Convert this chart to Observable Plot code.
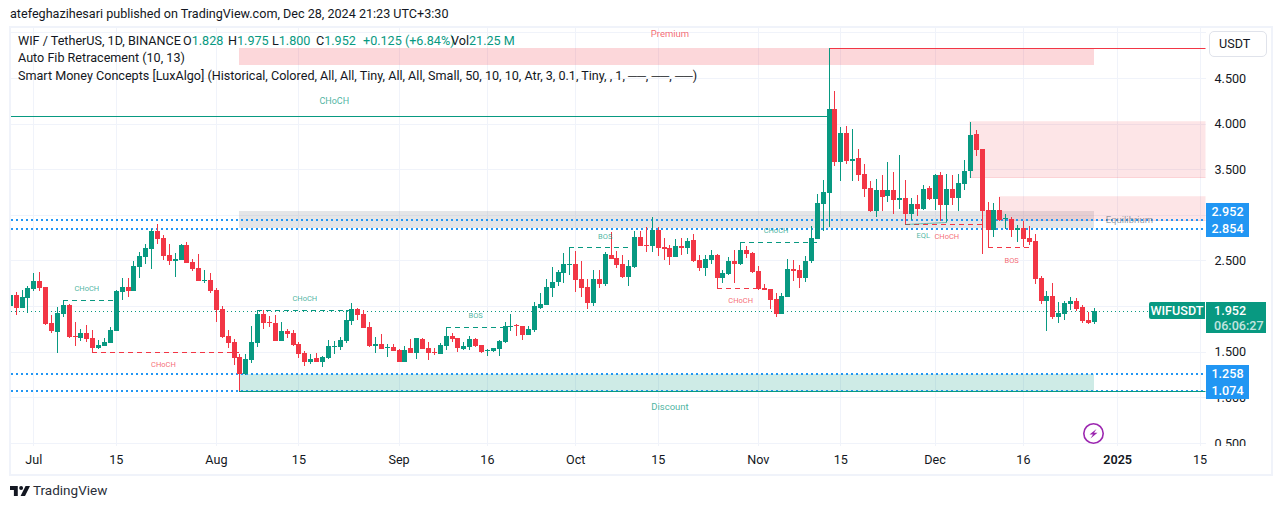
<!DOCTYPE html>
<html><head><meta charset="utf-8">
<script src="https://cdn.jsdelivr.net/npm/d3@7"></script>
<script src="https://cdn.jsdelivr.net/npm/@observablehq/plot@0.6"></script>
<style>
html,body{margin:0;padding:0;background:#fff;width:1281px;height:509px;overflow:hidden}
body{position:relative;font-family:Roboto,sans-serif;color:#131722}
#chart{position:absolute;left:0;top:0}
#chart line{shape-rendering:crispEdges}
#chart rect{shape-rendering:crispEdges}
.abs{position:absolute;white-space:nowrap;line-height:1}
.frame{position:absolute;left:9px;top:26px;width:1260px;height:446px;border:2px solid #f0f3fa;box-sizing:content-box;pointer-events:none}
.leg{font-size:12.6px}
.g{color:#089981}
.badge{position:absolute;left:1206px;width:43px;height:17px;background:#2196f3;color:#fff;font-size:12.6px;font-weight:500;line-height:17px;text-align:center}
</style></head><body>
<div id="chart"></div>
<div class="frame"></div>
<div class="abs" style="left:1207px;top:446px;width:60px;height:7px;background:#fff"></div>
<div class="abs" style="left:10px;top:8px;font-size:12.6px">atefeghazihesari published on TradingView.com, Dec 28, 2024 21:23 UTC+3:30</div>
<div class="abs leg" style="left:18px;top:35px">WIF / TetherUS, 1D, BINANCE</div>
<div class="abs leg" style="left:183px;top:35px">O<span class="g">1.828</span></div>
<div class="abs leg" style="left:228px;top:35px">H<span class="g">1.975</span></div>
<div class="abs leg" style="left:272px;top:35px">L<span class="g">1.800</span></div>
<div class="abs leg" style="left:316px;top:35px">C<span class="g">1.952</span></div>
<div class="abs leg g" style="left:363px;top:35px">+0.125 (+6.84%)</div>
<div class="abs leg" style="left:451px;top:35px">Vol<span class="g">21.25 M</span></div>
<div class="abs leg" style="left:18px;top:52px">Auto Fib Retracement (10, 13)</div>
<div class="abs leg" style="left:18px;top:70px">Smart Money Concepts [LuxAlgo] (Historical, Colored, All, All, Tiny, All, All, Small, 50, 10, 10, Atr, 3, 0.1, Tiny, , 1, ──, ──, ──)</div>
<div class="abs" style="left:1209px;top:31px;width:56px;height:24px;border:1px solid #e0e3eb;border-radius:5px;background:#fff;font-size:12.6px;line-height:24px;text-indent:9px">USDT</div>
<div class="badge" style="top:203px">2.952</div>
<div class="badge" style="top:220px">2.854</div>
<div class="badge" style="top:365px">1.258</div>
<div class="badge" style="top:382px">1.074</div>
<div class="abs" style="left:1149px;top:302px;width:56px;height:17px;background:#089981;color:#fff;font-size:12.6px;font-weight:500;line-height:17px;text-align:center;border-radius:2px 0 0 2px">WIFUSDT</div>
<div class="abs" style="left:1206px;top:302px;width:60px;height:31px;background:#089981;color:#fff;font-size:12.6px;font-weight:500;line-height:15px;text-indent:8px"><div style="padding-top:1px">1.952</div><div style="opacity:.75">06:06:27</div></div>
<svg class="abs" style="left:1082px;top:422px" width="23" height="23" viewBox="0 0 23 23"><circle cx="11.5" cy="11.5" r="9.7" fill="#fff" stroke="#9c27b0" stroke-width="1.6"/><path d="M14.5 7 L7.5 12.5 H11 L8.5 16.5 L15.5 10.8 H12 Z" fill="#9c27b0"/></svg>
<svg class="abs" style="left:10px;top:486px" width="20" height="10" viewBox="0 0 36 18"><path d="M0 0H14V18H7V7H0Z M20 0A3.5 3.5 0 1 0 20 7A3.5 3.5 0 1 0 20 0Z M28 0H36L27 18H19Z" fill="#131722"/></svg>
<div class="abs" style="left:33px;top:484px;font-size:13.5px;color:#2a2e39">TradingView</div>
<script>
const firstDay = new Date(Date.UTC(2024, 5, 27));
const open = [
2.001,2.121,1.983,2.092,
2.191,2.275,2.209,1.815,1.720,1.917,2.012,1.672,1.650,1.705,1.650,1.541,1.563,1.595,1.731,2.154,2.209,2.165,2.428,2.538,2.626,2.823,2.746,2.560,2.494,2.505,2.669,2.483,2.417,2.275,2.286,
2.176,1.968,1.672,1.606,1.442,1.256,1.409,1.596,1.913,1.826,1.815,1.617,1.727,1.705,1.585,1.486,1.387,1.431,1.387,1.431,1.552,1.552,1.617,1.837,1.968,1.913,1.771,1.563,1.585,1.541,1.552,
1.519,1.387,1.541,1.486,1.639,1.541,1.497,1.475,1.563,1.672,1.650,1.530,1.552,1.639,1.574,1.508,1.508,1.530,1.607,1.771,1.793,1.782,1.683,1.740,1.979,2.012,2.198,2.264,2.363,2.450,
2.461,2.297,2.209,2.034,2.297,2.242,2.560,2.527,2.461,2.319,2.429,2.757,2.670,2.659,2.834,2.648,2.637,2.538,2.659,2.637,2.724,2.505,2.418,2.505,2.560,2.308,2.352,2.494,2.461,2.615,2.582,
2.385,2.198,2.187,2.078,1.913,2.100,2.407,2.396,2.308,2.494,2.736,3.119,3.240,4.160,3.579,3.897,3.590,3.623,3.448,3.294,3.042,3.273,3.207,3.273,3.163,3.185,3.009,3.119,3.064,3.294,
3.174,3.437,3.108,3.283,3.185,3.338,3.481,3.886,3.722,3.053,2.834,3.053,2.955,2.955,2.834,2.856,2.747,2.714,2.308,2.056,2.111,1.881,1.914,2.023,2.056,1.990,1.848,1.828];
const close = [
2.121,1.983,2.100,2.198,
2.275,2.202,1.804,1.731,1.924,2.012,1.665,1.661,1.705,1.643,1.541,1.574,1.606,1.738,2.165,2.209,2.165,2.439,2.549,2.637,2.823,2.735,2.549,2.494,2.516,2.669,2.472,2.406,2.275,2.286,2.165,
1.957,1.661,1.595,1.431,1.256,1.420,1.607,1.913,1.815,1.815,1.617,1.727,1.694,1.574,1.475,1.387,1.420,1.387,1.442,1.563,1.563,1.628,1.848,1.968,1.902,1.760,1.563,1.585,1.530,1.552,1.508,
1.387,1.519,1.486,1.650,1.530,1.486,1.486,1.574,1.672,1.639,1.541,1.563,1.639,1.563,1.497,1.519,1.541,1.617,1.782,1.782,1.782,1.683,1.749,2.001,2.023,2.209,2.264,2.374,2.461,2.461,
2.286,2.198,2.034,2.297,2.242,2.571,2.516,2.450,2.319,2.439,2.757,2.659,2.659,2.834,2.637,2.626,2.538,2.659,2.637,2.713,2.494,2.418,2.516,2.560,2.308,2.363,2.494,2.461,2.615,2.571,2.374,
2.187,2.176,2.067,1.913,2.111,2.407,2.385,2.308,2.494,2.746,3.130,3.251,4.160,3.579,3.897,3.590,3.612,3.437,3.283,3.042,3.273,3.196,3.273,3.163,3.185,3.009,3.119,3.064,3.283,3.174,
3.437,3.108,3.283,3.185,3.349,3.481,3.875,3.711,3.042,2.834,3.053,2.944,2.966,2.834,2.856,2.736,2.703,2.297,2.056,2.111,1.881,1.925,2.034,2.056,1.968,1.837,1.815,1.952];
const high = [
2.140,2.151,2.176,2.220,
2.363,2.374,2.209,1.902,1.990,2.067,2.019,1.826,1.749,1.793,1.738,1.628,1.650,1.771,2.176,2.308,2.308,2.494,2.593,2.680,2.845,2.900,2.779,2.680,2.582,2.680,2.702,2.516,2.571,2.395,2.363,
2.198,2.001,1.738,1.639,1.475,1.475,1.782,1.946,1.957,1.891,1.902,1.826,1.749,1.738,1.607,1.508,1.475,1.486,1.453,1.628,1.617,1.661,1.957,2.034,1.979,1.957,1.826,1.661,1.694,1.585,1.585,
1.530,1.563,1.639,1.650,1.650,1.607,1.541,1.596,1.771,1.705,1.650,1.607,1.672,1.650,1.574,1.530,1.541,1.628,1.826,1.913,1.804,1.782,1.782,2.045,2.144,2.297,2.429,2.396,2.582,2.644,
2.604,2.494,2.297,2.396,2.396,2.593,2.812,2.604,2.560,2.505,2.823,2.823,2.867,2.976,2.867,2.746,2.670,2.735,2.746,2.746,2.790,2.560,2.560,2.615,2.571,2.396,2.538,2.615,2.703,2.659,2.593,
2.439,2.242,2.187,2.144,2.144,2.516,2.505,2.450,2.549,2.878,3.229,3.382,4.829,4.357,3.963,3.974,3.941,3.722,3.557,3.371,3.393,3.437,3.579,3.470,3.656,3.382,3.185,3.218,3.327,3.316,
3.448,3.470,3.448,3.437,3.448,3.601,4.018,3.930,3.722,3.141,3.130,3.196,3.010,2.977,2.889,2.933,2.878,2.790,2.330,2.166,2.253,2.045,2.056,2.100,2.089,2.012,1.936,1.975];
const low = [
1.980,1.902,1.983,1.928,
2.169,2.169,1.793,1.705,1.489,1.884,1.650,1.566,1.617,1.610,1.493,1.530,1.563,1.595,1.731,2.067,2.100,2.165,2.308,2.461,2.406,2.680,2.505,2.450,2.319,2.505,2.472,2.384,2.275,2.253,2.143,
1.826,1.650,1.541,1.354,1.074,1.240,1.376,1.552,1.749,1.771,1.617,1.617,1.650,1.563,1.431,1.344,1.365,1.387,1.333,1.420,1.475,1.519,1.596,1.793,1.848,1.760,1.552,1.486,1.530,1.442,1.508,
1.387,1.387,1.486,1.420,1.530,1.409,1.464,1.475,1.519,1.607,1.497,1.519,1.519,1.552,1.486,1.453,1.497,1.453,1.596,1.727,1.672,1.628,1.683,1.720,1.968,2.012,2.100,2.220,2.253,2.341,
2.155,2.100,1.968,2.001,2.198,2.220,2.516,2.418,2.308,2.220,2.418,2.659,2.593,2.593,2.549,2.505,2.450,2.538,2.560,2.571,2.483,2.385,2.330,2.461,2.187,2.253,2.341,2.253,2.450,2.527,2.363,
2.176,2.176,1.968,1.881,1.913,2.100,2.275,2.198,2.264,2.470,2.736,2.823,2.867,3.536,3.371,3.557,3.371,3.371,3.196,3.031,2.977,3.042,3.141,3.009,3.064,2.900,2.944,2.988,3.053,3.163,
3.053,2.933,2.922,3.108,3.042,3.273,3.404,3.645,2.571,2.834,2.757,2.933,2.845,2.757,2.703,2.648,2.670,2.242,2.023,1.727,1.859,1.815,1.848,1.957,1.947,1.815,1.804,1.800];

const D = (m, d, y = 2024) => new Date(Date.UTC(y, m - 1, d));
const priceTicks = [0.5, 1, 1.5, 2, 2.5, 3, 3.5, 4, 4.5];
const priceGrid = [0.5, 1, 1.5, 2, 2.5, 3, 3.5, 4, 4.5, 5];
const timeTicks = [D(7,1), D(7,15), D(8,1), D(8,15), D(9,1), D(9,16), D(10,1), D(10,15), D(11,1), D(11,15), D(12,1), D(12,16), D(1,1,2025), D(1,15,2025)];
const timeLabels = ["Jul","15","Aug","15","Sep","16","Oct","15","Nov","15","Dec","16","2025","15"];
const fibLevels = [2.952, 2.854, 1.258, 1.074];
const lastPrice = 1.952;
const zones = [
  {x1: D(8,5), x2: D(12,28), y1: 4.642, y2: 4.829, fill: "#f23645", op: 0.2},
  {x1: D(8,5), x2: D(12,28), y1: 2.856, y2: 3.042, fill: "#787b86", op: 0.2},
  {x1: D(8,5), x2: D(12,28), y1: 1.074, y2: 1.258, fill: "#089981", op: 0.2}
];
const orderBlocks = [
  {x1: D(12,7), x2: D(1,17,2025), y1: 3.407, y2: 4.018},
  {x1: D(12,12), x2: D(1,17,2025), y1: 2.936, y2: 3.196}
];
const levels = [
  {x1: D(1,1), x2: D(11,13), y: 4.083, c: "#089981", dash: "none"},
  {x1: D(11,13), x2: D(1,17,2025), y: 4.829, c: "#f23645", dash: "none"},
  {x1: D(8,5), x2: D(1,17,2025), y: 1.074, c: "#089981", dash: "none"},
  {x1: D(7,6), x2: D(7,15), y: 2.063, c: "#089981", dash: "5,4"},
  {x1: D(7,11), x2: D(8,5), y: 1.493, c: "#f23645", dash: "5,4"},
  {x1: D(8,8), x2: D(8,24), y: 1.954, c: "#089981", dash: "5,4"},
  {x1: D(9,9), x2: D(9,19), y: 1.768, c: "#089981", dash: "5,4"},
  {x1: D(9,30), x2: D(10,11), y: 2.644, c: "#089981", dash: "5,4"},
  {x1: D(10,25), x2: D(11,3), y: 2.195, c: "#f23645", dash: "5,4"},
  {x1: D(10,29), x2: D(11,11), y: 2.700, c: "#089981", dash: "5,4"},
  {x1: D(11,26), x2: D(12,9), y: 2.896, c: "#f23645", dash: "5,4"},
  {x1: D(12,10), x2: D(12,17), y: 2.644, c: "#f23645", dash: "5,4"}
];
const stems = [
  {x: D(7,6), y1: 2.012, y2: 2.063, c: "#089981"},
  {x: D(9,9), y1: 1.672, y2: 1.768, c: "#089981"},
  {x: D(12,10), y1: 2.644, y2: 2.834, c: "#f23645"}
];
const eql = [{x: D(11,26), y: 2.900}, {x: D(12,3), y: 2.922}];
const labels = [
  {x: D(8,21), y: 4.248, t: "CHoCH", c: "#089981", s: 9},
  {x: D(7,10), y: 2.202, t: "CHoCH", c: "#089981", s: 7.5},
  {x: D(7,23), y: 1.369, t: "CHoCH", c: "#f23645", s: 7.5},
  {x: D(8,16), y: 2.092, t: "CHoCH", c: "#089981", s: 7.5},
  {x: D(9,14), y: 1.906, t: "BOS", c: "#089981", s: 7.5},
  {x: D(10,6), y: 2.772, t: "BOS", c: "#089981", s: 7.5},
  {x: D(11,4), y: 2.838, t: "CHoCH", c: "#089981", s: 7.5},
  {x: D(10,29), y: 2.070, t: "CHoCH", c: "#f23645", s: 7.5},
  {x: D(11,29), y: 2.783, t: "EQL", c: "#089981", s: 7.5},
  {x: D(12,3), y: 2.772, t: "CHoCH", c: "#f23645", s: 7.5},
  {x: D(12,14), y: 2.509, t: "BOS", c: "#f23645", s: 7.5},
  {x: D(10,17), y: 4.993, t: "Premium", c: "#f23645", s: 9.5},
  {x: D(10,17), y: 0.905, t: "Discount", c: "#089981", s: 9.5},
  {x: D(1,3,2025), y: 2.955, t: "Equilibrium", c: "#787b86", s: 9.5}
];

const candles = open.map((o, i) => ({
  date: d3.utcDay.offset(firstDay, i), o, c: close[i], h: high[i], l: low[i]
}));
const up = candles.filter(d => d.c >= d.o);
const down = candles.filter(d => d.c < d.o);
const GREEN = "#089981", RED = "#f23645";
const candleMarks = (rows, col) => [
  Plot.ruleX(rows, {x: "date", y1: "l", y2: "h", stroke: col, strokeWidth: 1, clip: true}),
  Plot.ruleX(rows, {x: "date", y1: "o", y2: "c", stroke: col, strokeWidth: 5, clip: true})
];

const chart = Plot.plot({
  width: 1281, height: 509,
  marginLeft: 11, marginRight: 75.5, marginTop: 27, marginBottom: 63,
  style: {fontFamily: "Roboto,sans-serif", background: "transparent", color: "#131722"},
  x: {type: "utc", domain: [new Date(Date.UTC(2024,5,27,5,0)), new Date(Date.UTC(2025,0,16,0,0))], range: [11, 1205.5]},
  y: {type: "linear", domain: [0.4671, 5.0589], range: [446, 27]},
  marks: [
    Plot.ruleX(timeTicks, {stroke: "#f0f3fa", strokeWidth: 1}),
    Plot.ruleY(priceGrid, {stroke: "#f0f3fa", strokeWidth: 1}),
    Plot.rect(zones, {x1: "x1", x2: "x2", y1: "y1", y2: "y2", fill: "fill", fillOpacity: "op", clip: true}),
    Plot.rect(orderBlocks, {x1: "x1", x2: "x2", y1: "y1", y2: "y2", fill: RED, fillOpacity: 0.13, stroke: RED, strokeOpacity: 0.1, clip: true}),
    Plot.ruleY(fibLevels, {stroke: "#2196f3", strokeWidth: 2, strokeDasharray: "2,3", clip: true}),
    Plot.ruleY([lastPrice], {stroke: GREEN, strokeWidth: 1, strokeDasharray: "1,3", clip: true}),
    ...levels.map(l => Plot.ruleY([l], {x1: "x1", x2: "x2", y: "y", stroke: l.c, strokeWidth: 1, strokeDasharray: l.dash, clip: true})),
    ...stems.map(l => Plot.ruleX([l], {x: "x", y1: "y1", y2: "y2", stroke: l.c, strokeWidth: 1, clip: true})),
    Plot.line(eql, {x: "x", y: "y", stroke: GREEN, strokeWidth: 1, strokeDasharray: "2,1", strokeOpacity: 0.6}),
    ...candleMarks(up, GREEN),
    ...candleMarks(down, RED),
    ...labels.map(l => Plot.text([l], {x: "x", y: "y", text: "t", fill: l.c, fillOpacity: 0.75, fontSize: l.s})),
    Plot.axisY(priceTicks, {anchor: "right", tickSize: 0, tickPadding: 8.5, fontSize: 12.6, tickFormat: d3.format(".3f"), label: null}),
    Plot.axisX(timeTicks, {anchor: "bottom", tickSize: 0, tickPadding: 9, fontSize: 12.6, tickFormat: (d, i) => timeLabels[i], label: null})
  ]
});
d3.select(chart).selectAll("text").filter(function () { return this.textContent === "2025"; }).attr("font-weight", 600);
document.getElementById("chart").appendChild(chart);
</script>
</body></html>
